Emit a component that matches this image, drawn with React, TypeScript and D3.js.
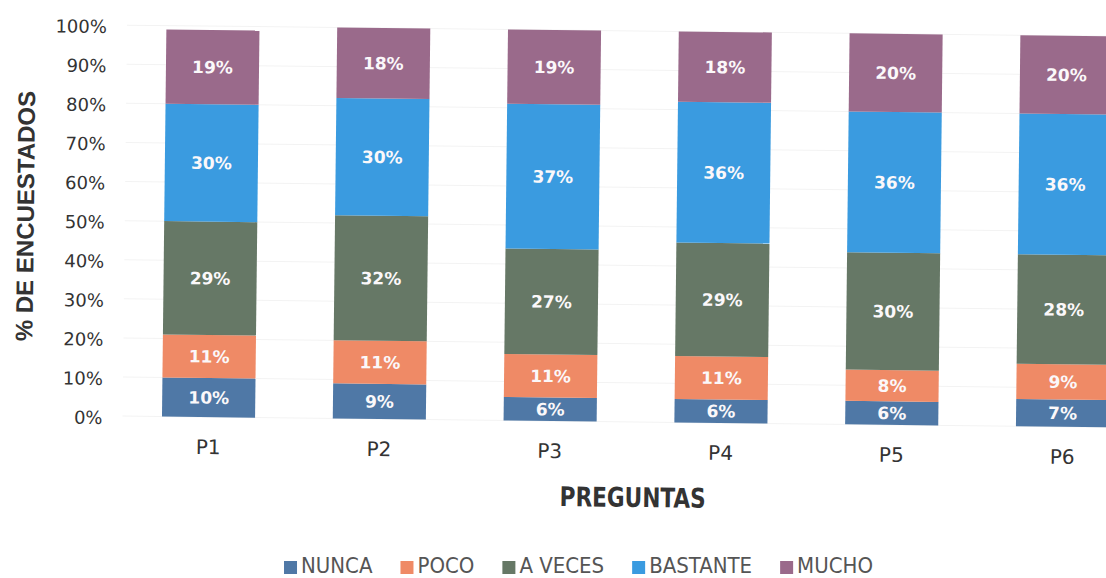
import React from "react";
import * as d3 from "d3";

const categories = ["P1", "P2", "P3", "P4", "P5", "P6"];
const seriesNames = ["NUNCA", "POCO", "A VECES", "BASTANTE", "MUCHO"];
const nunca = [10, 9, 6, 6, 6, 7];
const poco = [11, 11, 11, 11, 8, 9];
const aVeces = [29, 32, 27, 29, 30, 28];
const bastante = [30, 30, 37, 36, 36, 36];
const mucho = [19, 18, 19, 18, 20, 20];
const yTicks = [0, 10, 20, 30, 40, 50, 60, 70, 80, 90, 100];

const colors = ["#4f78a6", "#ef8a66", "#667866", "#3a9be0", "#9a6a8b"];

const W = 1106;
const H = 578;

function measure(text: string, font: string): number {
  const c = document.createElement("canvas");
  const ctx = c.getContext("2d");
  if (!ctx) return text.length * 12;
  ctx.font = font;
  return ctx.measureText(text).width;
}

export default function App() {
  const rows = categories.map((c, i) => ({
    cat: c,
    NUNCA: nunca[i],
    POCO: poco[i],
    "A VECES": aVeces[i],
    BASTANTE: bastante[i],
    MUCHO: mucho[i],
  }));
  const stacked = d3.stack<any>().keys(seriesNames)(rows);

  const x = d3
    .scaleBand<string>()
    .domain(categories)
    .range([124.6, 1149.4])
    .paddingInner(0.455)
    .paddingOuter(0.2275);
  const y = d3.scaleLinear().domain([0, 100]).range([421, 30]);

  const legendFamily = "'DejaVu Sans Condensed', 'DejaVu Sans', sans-serif";
  const legendSize = 22;
  const legendFont = `${legendSize}px 'DejaVu Sans Condensed', 'DejaVu Sans', sans-serif`;
  const sq = 13;
  const gapSqText = 4;
  const gapItems = 28;
  const widths = seriesNames.map((s) => measure(s, legendFont));
  const total =
    widths.reduce((a, b) => a + b, 0) +
    seriesNames.length * (sq + gapSqText) +
    (seriesNames.length - 1) * gapItems;
  let cursor = 578.5 - total / 2;
  const legendItems = seriesNames.map((s, i) => {
    const item = { name: s, x: cursor, color: colors[i] };
    cursor += sq + gapSqText + widths[i] + gapItems;
    return item;
  });

  return (
    <svg
      width={W}
      height={H}
      style={{ position: "absolute", left: 0, top: 0, background: "#fff" }}
    >
      <rect x={0} y={0} width={W} height={H} fill="#fff" />
      <g transform="rotate(0.65 553 289)">
        {yTicks.map((t) => (
          <line
            key={"g" + t}
            x1={124}
            x2={1160}
            y1={y(t)}
            y2={y(t)}
            stroke="#f3f3f3"
            strokeWidth={1}
          />
        ))}
        {yTicks.map((t) => (
          <text
            key={"t" + t}
            x={104}
            y={y(t)}
            dy="0.45em"
            textAnchor="end"
            fontFamily="'DejaVu Sans', sans-serif"
            fontSize={18}
            fill="#333"
          >
            {t}%
          </text>
        ))}
        {stacked.map((layer, si) => (
          <g key={layer.key} fill={colors[si]}>
            {layer.map((d, i) => (
              <rect
                key={i}
                x={x(categories[i])}
                y={y(d[1])}
                width={x.bandwidth()}
                height={y(d[0]) - y(d[1])}
              />
            ))}
          </g>
        ))}
        {stacked.map((layer) => (
          <g key={"l" + layer.key}>
            {layer.map((d, i) => (
              <text
                key={i}
                x={(x(categories[i]) as number) + x.bandwidth() / 2}
                y={y((d[0] + d[1]) / 2)}
                dy="0.36em"
                textAnchor="middle"
                fontFamily="'DejaVu Sans', sans-serif"
                fontWeight="bold"
                fontSize={17}
                fill="#fbf8fa"
              >
                {d[1] - d[0]}%
              </text>
            ))}
          </g>
        ))}
        {categories.map((c) => (
          <text
            key={"x" + c}
            x={(x(c) as number) + x.bandwidth() / 2}
            y={458}
            textAnchor="middle"
            fontFamily="'DejaVu Sans', sans-serif"
            fontSize={20}
            fill="#333"
          >
            {c}
          </text>
        ))}
        <text
          x={635}
          y={506}
          textAnchor="middle"
          fontFamily="'DejaVu Sans Condensed', 'DejaVu Sans', sans-serif"
          fontWeight="bold"
          fontSize={27}
          textLength={146}
          lengthAdjust="spacingAndGlyphs"
          fill="#333"
        >
          PREGUNTAS
        </text>
        <text
          transform="translate(33 222) rotate(-90)"
          textAnchor="middle"
          fontFamily="'Liberation Sans', Arial, sans-serif"
          fontWeight="bold"
          fontSize={24}
          fill="#333"
        >
          % DE ENCUESTADOS
        </text>
      </g>
      {legendItems.map((it) => (
        <g key={"lg" + it.name}>
          <rect x={it.x} y={561} width={sq} height={sq} fill={it.color} />
          <text
            x={it.x + sq + gapSqText}
            y={573}
            fontFamily={legendFamily}
            fontSize={legendSize}
            fill="#555"
          >
            {it.name}
          </text>
        </g>
      ))}
    </svg>
  );
}
